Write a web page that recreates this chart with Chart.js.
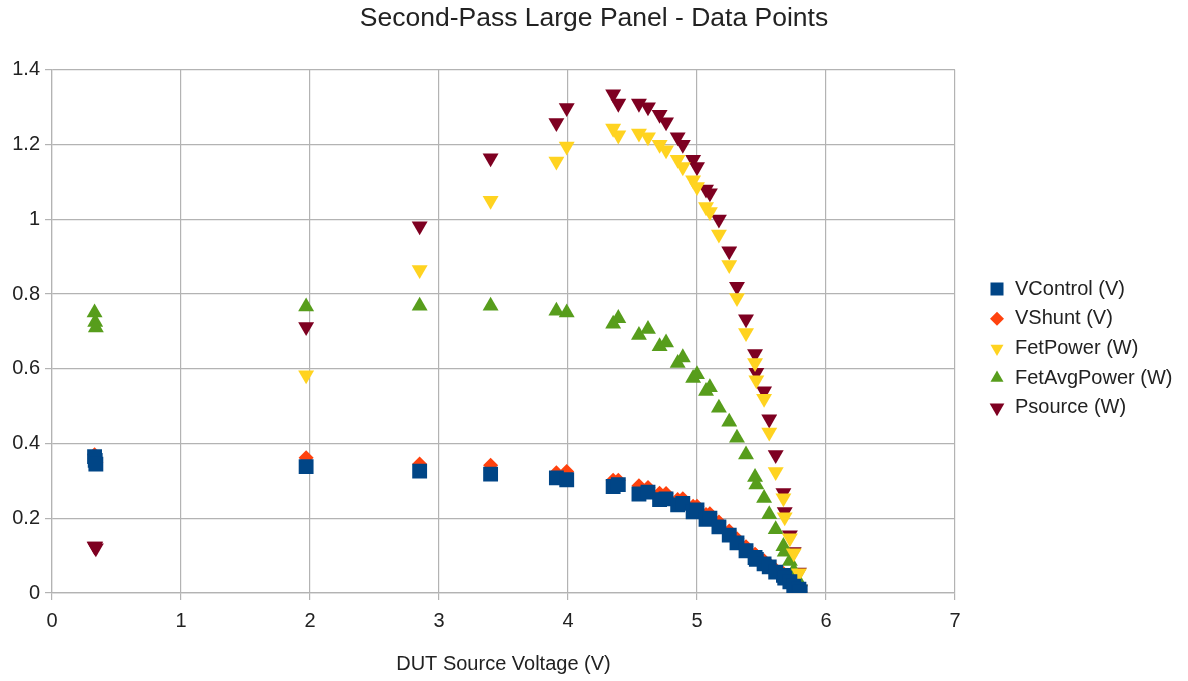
<!DOCTYPE html>
<html>
<head>
<meta charset="utf-8">
<title>Second-Pass Large Panel - Data Points</title>
<script src="https://cdn.jsdelivr.net/npm/chart.js@4.4.0/dist/chart.umd.min.js"></script>
<style>
  html, body { margin: 0; padding: 0; background: #fff; }
  #wrap { width: 1188px; height: 681px; position: relative; }
</style>
</head>
<body>
<div id="wrap"><canvas id="chart"></canvas></div>
<script>
// DUT source voltage (V) - shared x for every series
const sourceVoltage = [0.33, 0.335, 0.34, 1.97, 2.85, 3.40, 3.91, 3.99, 4.35, 4.39,
  4.55, 4.62, 4.71, 4.76, 4.85, 4.89, 4.97, 5.00, 5.07, 5.10,
  5.17, 5.25, 5.31, 5.38, 5.45, 5.46, 5.52, 5.56, 5.61, 5.67,
  5.68, 5.72, 5.75, 5.79, 5.80];

const vControl = [0.365, 0.355, 0.345, 0.338, 0.326, 0.318, 0.308, 0.303, 0.285, 0.29,
  0.265, 0.27, 0.25, 0.252, 0.236, 0.24, 0.217, 0.222, 0.197, 0.20,
  0.177, 0.155, 0.134, 0.113, 0.095, 0.09, 0.078, 0.07, 0.056, 0.047,
  0.04, 0.03, 0.018, 0.01, 0.003];

const vShunt = [0.37, 0.36, 0.35, 0.362, 0.345, 0.342, 0.322, 0.325, 0.302, 0.302,
  0.287, 0.282, 0.267, 0.266, 0.25, 0.252, 0.232, 0.232, 0.21, 0.212,
  0.19, 0.166, 0.145, 0.124, 0.104, 0.1, 0.086, 0.077, 0.062, 0.052,
  0.045, 0.034, 0.022, 0.01, 0.003];

const fetPower = [null, null, null, 0.583, 0.865, 1.05, 1.155, 1.195, 1.243, 1.225,
  1.23, 1.22, 1.20, 1.185, 1.16, 1.14, 1.105, 1.087, 1.033, 1.02,
  0.96, 0.878, 0.79, 0.696, 0.616, 0.57, 0.52, 0.43, 0.324, 0.254,
  0.203, 0.147, 0.107, 0.053, 0.01];

const fetAvgPower = [0.75, 0.725, 0.71, 0.766, 0.768, 0.768, 0.755, 0.75, 0.72, 0.735,
  0.69, 0.706, 0.66, 0.67, 0.615, 0.63, 0.575, 0.585, 0.54, 0.55,
  0.495, 0.458, 0.415, 0.37, 0.31, 0.29, 0.254, 0.21, 0.17, 0.125,
  0.11, 0.085, 0.06, 0.03, 0.005];

const pSource = [0.125, 0.125, 0.12, 0.712, 0.982, 1.164, 1.258, 1.298, 1.335, 1.31,
  1.31, 1.30, 1.28, 1.26, 1.22, 1.20, 1.16, 1.14, 1.08, 1.07,
  1.00, 0.915, 0.82, 0.733, 0.64, 0.59, 0.54, 0.465, 0.37, 0.268,
  0.217, 0.155, 0.11, 0.055, 0.01];

const FONT = '"Liberation Sans", Arial, sans-serif';
const TEXT = '#222';
const GRID = '#b3b3b3';

function pts(ys) {
  return sourceVoltage.map((x, i) => ({ x, y: ys[i] })).filter(p => p.y !== null);
}

// legend drawn at the right, like the office-suite chart
const sideLegend = {
  id: 'sideLegend',
  afterDraw(chart) {
    const ctx = chart.ctx;
    const area = chart.chartArea;
    const x0 = area.right + 42;
    const yMid = (area.top + area.bottom) / 2 + 17;
    const step = 29.7;
    const n = chart.data.datasets.length;
    ctx.save();
    ctx.font = '20px ' + FONT;
    ctx.textBaseline = 'middle';
    chart.data.datasets.forEach((ds, i) => {
      const y = yMid + (i - (n - 1) / 2) * step;
      ctx.fillStyle = ds.backgroundColor;
      Chart.helpers.drawPoint(ctx, {
        pointStyle: ds.pointStyle,
        radius: ds.legendRadius,
        rotation: ds.rotation || 0,
        borderWidth: 0
      }, x0, y);
      ctx.fillStyle = TEXT;
      ctx.fillText(ds.label, x0 + 18, y);
    });
    ctx.restore();
  }
};

new Chart(document.getElementById('chart'), {
  type: 'scatter',
  data: {
    datasets: [
      { label: 'VControl (V)', data: pts(vControl), pointStyle: 'rect',
        backgroundColor: '#004586', borderWidth: 0, pointRadius: 10.5, legendRadius: 9.2 },
      { label: 'VShunt (V)', data: pts(vShunt), pointStyle: 'rectRot',
        backgroundColor: '#ff420e', borderWidth: 0, pointRadius: 7.5, legendRadius: 7 },
      { label: 'FetPower (W)', data: pts(fetPower), pointStyle: 'triangle', rotation: 180,
        backgroundColor: '#ffd320', borderWidth: 0, pointRadius: 9.2, legendRadius: 7.5 },
      { label: 'FetAvgPower (W)', data: pts(fetAvgPower), pointStyle: 'triangle',
        backgroundColor: '#579d1c', borderWidth: 0, pointRadius: 9.2, legendRadius: 7.5 },
      { label: 'Psource (W)', data: pts(pSource), pointStyle: 'triangle', rotation: 180,
        backgroundColor: '#7e0021', borderWidth: 0, pointRadius: 9.2, legendRadius: 8.5 }
    ]
  },
  options: {
    responsive: true,
    maintainAspectRatio: false,
    animation: false,
    layout: { padding: 0 },
    plugins: {
      legend: { display: false },
      tooltip: { enabled: false },
      title: {
        display: true,
        text: 'Second-Pass Large Panel - Data Points',
        color: TEXT,
        font: { family: FONT, size: 26.5, weight: 'normal' },
        padding: { top: 3, bottom: 35 }
      }
    },
    scales: {
      x: {
        type: 'linear',
        min: 0, max: 7,
        ticks: { stepSize: 1, color: TEXT, font: { family: FONT, size: 20 }, padding: 9 },
        grid: { color: GRID, tickLength: 7, lineWidth: 1.2 },
        border: { color: GRID, width: 1.2 },
        title: {
          display: true,
          text: 'DUT Source Voltage (V)',
          color: TEXT,
          font: { family: FONT, size: 20 },
          padding: { top: 0, bottom: 5 }
        },
        afterFit: (s) => { s.height = 88; }
      },
      y: {
        type: 'linear',
        min: 0, max: 1.4,
        ticks: {
          stepSize: 0.2, color: TEXT, font: { family: FONT, size: 20 }, padding: 5,
          callback: (v) => String(Number(v.toFixed(1)))
        },
        grid: { color: GRID, tickLength: 7, lineWidth: 1.2 },
        border: { color: GRID, width: 1.2 },
        afterFit: (s) => { s.width = 52; }
      },
      // empty right-hand box that keeps room for the legend
      legendSpace: {
        type: 'linear',
        position: 'right',
        display: true,
        ticks: { display: false },
        grid: { display: false, drawTicks: false },
        border: { display: false },
        afterFit: (s) => { s.width = 233; }
      }
    }
  },
  plugins: [sideLegend]
});
</script>
</body>
</html>
